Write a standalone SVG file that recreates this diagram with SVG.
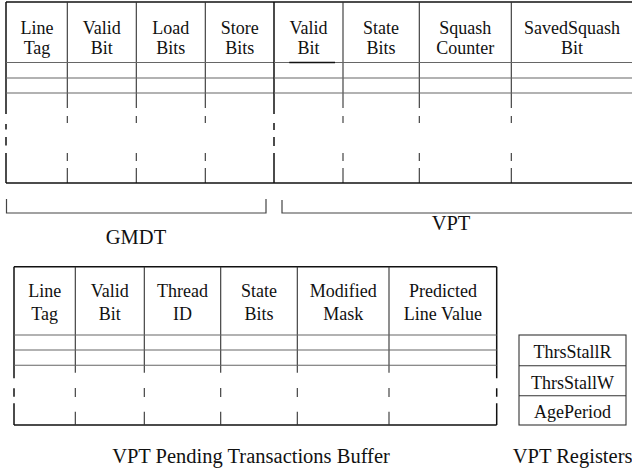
<svg xmlns="http://www.w3.org/2000/svg" width="632" height="469" viewBox="0 0 632 469">
<style>
text{font-family:'Liberation Serif','Times New Roman',Times,Tinos,'Nimbus Roman','Nimbus Roman No9 L','FreeSerif','Noto Serif','DejaVu Serif',Georgia,serif;fill:#111;text-anchor:middle}
.h{font-size:18px}
.lbl{font-size:20.5px}
.edge{stroke:#111;stroke-width:1.5;fill:none}
.col{stroke:#333;stroke-width:1.1;fill:none}
.row{stroke:#666;stroke-width:1.1;fill:none}
.br{stroke:#444;stroke-width:1.2;fill:none}
</style>
<rect width="632" height="469" fill="#fff"/>

<g id="gmdt">
<line class="edge" x1="6" y1="2" x2="274" y2="2"/>
<path class="edge" d="M6 2V114M6 124V129.5M6 137V145.5M6 153V183"/>
<path class="col" d="M67.3 2V108M67.3 116V123M67.3 153V161M67.3 168V183"/>
<path class="col" d="M136.3 2V108M136.3 116V123M136.3 153V161M136.3 168V183"/>
<path class="col" d="M205.3 2V108M205.3 116V123M205.3 153V161M205.3 168V183"/>
<path class="row" d="M6 62.5H274M6 78H274M6 93H274"/>
<line class="edge" x1="6" y1="183" x2="274" y2="183"/>
<text class="h" x="37" y="34.3">Line</text><text class="h" x="37" y="54.3">Tag</text>
<text class="h" x="101.8" y="34.3">Valid</text><text class="h" x="101.8" y="54.3">Bit</text>
<text class="h" x="170.8" y="34.3">Load</text><text class="h" x="170.8" y="54.3">Bits</text>
<text class="h" x="239.8" y="34.3">Store</text><text class="h" x="239.8" y="54.3">Bits</text>
<path class="br" d="M6.5 199V213H266V199"/>
<text class="lbl" x="136" y="244">GMDT</text>
</g>

<g id="vpt">
<line class="edge" x1="274" y1="2" x2="640" y2="2"/>
<path class="edge" d="M274 2V114M274 123V130M274 137V146M274 153V183"/>
<path class="col" d="M343 2V108M343 116V123M343 153V161M343 168V183"/>
<path class="col" d="M419.3 2V108M419.3 116V123M419.3 153V161M419.3 168V183"/>
<path class="col" d="M511.3 2V108M511.3 116V123M511.3 153V161M511.3 168V183"/>
<path class="row" d="M274 62.5H640M274 78H640M274 93H640"/>
<line x1="289.3" y1="62.5" x2="335" y2="62.5" stroke="#111" stroke-width="1.3"/>
<line class="edge" x1="274" y1="183" x2="640" y2="183"/>
<text class="h" x="308.5" y="34.3">Valid</text><text class="h" x="308.5" y="54.3">Bit</text>
<text class="h" x="381" y="34.3">State</text><text class="h" x="381" y="54.3">Bits</text>
<text class="h" x="465.3" y="34.3">Squash</text><text class="h" x="465.3" y="54.3">Counter</text>
<text class="h" x="572" y="34.3">SavedSquash</text><text class="h" x="572" y="54.3">Bit</text>
<path class="br" d="M282 200V213H640"/>
<text class="lbl" x="451" y="230">VPT</text>
</g>

<g id="ptb">
<path class="edge" d="M14 266.7H496.7M14 425H496.7"/>
<path class="edge" d="M14 266.7V378.3M14 388.3V396.7M14 403.3V425"/>
<path class="edge" d="M496.7 266.7V378.3M496.7 388.3V396.7M496.7 403.3V425"/>
<path class="col" d="M75.3 266.7V372.7M75.3 388V397M75.3 411.7V425"/>
<path class="col" d="M144.3 266.7V372.7M144.3 388V397M144.3 411.7V425"/>
<path class="col" d="M220.7 266.7V372.7M220.7 388V397M220.7 411.7V425"/>
<path class="col" d="M297.3 266.7V372.7M297.3 388V397M297.3 411.7V425"/>
<path class="col" d="M389 266.7V372.7M389 388V397M389 411.7V425"/>
<path class="row" d="M14 335H496.7M14 350H496.7M14 365.3H496.7"/>
<text class="h" x="44.7" y="297.3">Line</text><text class="h" x="44.7" y="320">Tag</text>
<text class="h" x="109.8" y="297.3">Valid</text><text class="h" x="109.8" y="320">Bit</text>
<text class="h" x="182.5" y="297.3">Thread</text><text class="h" x="182.5" y="320">ID</text>
<text class="h" x="259" y="297.3">State</text><text class="h" x="259" y="320">Bits</text>
<text class="h" x="343.2" y="297.3">Modified</text><text class="h" x="343.2" y="320">Mask</text>
<text class="h" x="442.9" y="297.3">Predicted</text><text class="h" x="442.9" y="320">Line Value</text>
<text class="lbl" x="251" y="463">VPT Pending Transactions Buffer</text>
</g>

<g id="regs">
<rect x="519" y="335" width="107" height="90" fill="none" stroke="#333" stroke-width="1.1"/>
<path class="col" d="M519 365.7H626M519 395.7H626"/>
<text class="h" x="572.5" y="358.3">ThrsStallR</text>
<text class="h" x="572.5" y="388.5">ThrsStallW</text>
<text class="h" x="572.5" y="417.5">AgePeriod</text>
<text class="lbl" x="512.7" y="463" style="text-anchor:start">VPT Registers</text>
</g>
</svg>
